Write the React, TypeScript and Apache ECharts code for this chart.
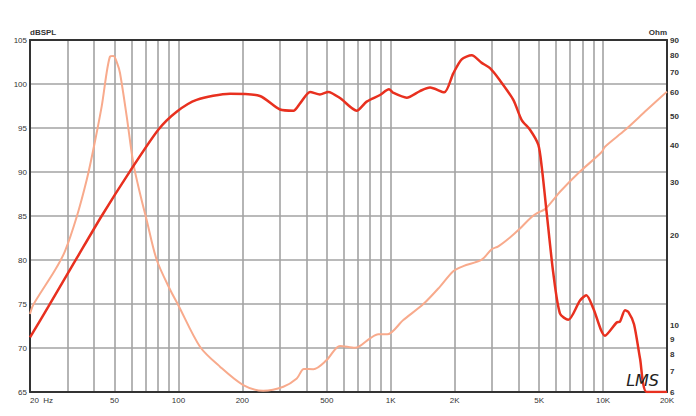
import React, { useEffect, useRef } from "react";
import * as echarts from "echarts";

// SPL response (Hz, dB SPL)
const splFreq = [20, 24.4, 33.2, 43.5, 59.2, 80.4, 98.1, 121.8, 175, 242, 301, 348, 374, 417, 464, 508, 577, 691, 770, 890, 981, 1028, 1189, 1373, 1531, 1788, 1970, 2158, 2406, 2682, 2934, 3270, 3778, 4138, 4527, 4953, 5140, 5428, 5828, 6268, 6858, 7786, 8338, 8996, 10210, 11594, 12018, 12684, 13146, 13986, 14928, 16048, 20000];
const splDb = [71.2, 74.7, 80.2, 85.0, 90.1, 94.8, 96.85, 98.2, 98.9, 98.64, 97.1, 96.97, 97.8, 99.1, 98.8, 99.1, 98.4, 96.97, 98.0, 98.75, 99.4, 99.0, 98.45, 99.2, 99.6, 99.05, 101.2, 102.8, 103.26, 102.4, 101.8, 100.4, 98.2, 95.9, 94.8, 93.1, 90.6, 85.3, 78.5, 73.9, 73.2, 75.4, 76.0, 74.5, 71.4, 72.9, 73.0, 74.3, 74.1, 72.7, 68.8, 65.0, 65.0];

// Impedance (Hz, Ohm)
const impFreq = [20, 20.7, 26.2, 29.2, 33.2, 37.0, 39.7, 43.5, 47.6, 49.4, 51.5, 53.1, 57.1, 61.3, 65.9, 70.9, 79.0, 91.3, 99.9, 126.4, 157, 202, 251, 312, 361, 390, 432, 499, 577, 679, 799, 874, 963, 1146, 1424, 1706, 1970, 2196, 2682, 2989, 3210, 3644, 4062, 4527, 4868, 5330, 5828, 6268, 7786, 9852, 10210, 12684, 16048, 20000];
const impOhm = [10.93, 11.72, 15.3, 17.7, 23.1, 30.7, 38.6, 53.9, 79.2, 79.6, 75.2, 69.7, 49.9, 34.9, 27.7, 22.5, 16.6, 13.2, 11.7, 8.5, 7.29, 6.33, 6.06, 6.25, 6.66, 7.16, 7.15, 7.67, 8.55, 8.43, 9.07, 9.35, 9.35, 10.44, 11.8, 13.5, 15.2, 15.8, 16.6, 18.0, 18.4, 19.7, 21.1, 22.8, 23.7, 24.5, 26.3, 28.0, 32.7, 38.0, 39.6, 45.0, 52.5, 60.5];

// Axes
const freqGrid = [20, 30, 40, 50, 60, 70, 80, 90, 100, 200, 300, 400, 500, 600, 700, 800, 900, 1000, 2000, 3000, 4000, 5000, 6000, 7000, 8000, 9000, 10000, 20000];
const freqLabels = [20, 50, 100, 200, 500, 1000, 2000, 5000, 10000, 20000];
const ohmLabels = [6, 7, 8, 9, 10, 20, 30, 40, 50, 60, 70, 80, 90];

const FONT = "Liberation Sans, Arial, sans-serif";

export default function App() {
  const ref = useRef<HTMLDivElement>(null);
  useEffect(() => {
    if (!ref.current) return;
    const chart = echarts.init(ref.current, undefined, { renderer: "svg" });
    const fmtFreq = (v: number) => {
      const r = Math.round(v);
      if (r === 20) return "20  Hz";
      if (r >= 1000) return r / 1000 + "K";
      return String(r);
    };
    chart.setOption({
      animation: false,
      backgroundColor: "#ffffff",
      grid: { left: 30, right: 29, top: 40, bottom: 24, containLabel: false },
      xAxis: [
        {
          type: "log",
          logBase: 10,
          min: 20,
          max: 20000,
          axisLine: { show: true, onZero: false, lineStyle: { color: "#333", width: 2 } },
          axisTick: { show: false, customValues: freqGrid },
          axisLabel: {
            customValues: freqLabels,
            formatter: fmtFreq,
            fontSize: 8,
            color: "#333",
            fontFamily: FONT,
            margin: 4,
            alignMinLabel: "left",
          },
          splitLine: { show: true, lineStyle: { color: "#a3a3a3", width: 1.6 } },
        },
        {
          type: "log",
          logBase: 10,
          min: 20,
          max: 20000,
          position: "top",
          axisLine: { show: true, lineStyle: { color: "#333", width: 2 } },
          axisTick: { show: false },
          axisLabel: { show: false },
          splitLine: { show: false },
        },
      ],
      yAxis: [
        {
          type: "value",
          min: 65,
          max: 105,
          interval: 5,
          name: "dBSPL",
          nameLocation: "end",
          nameGap: 3,
          nameTextStyle: { fontSize: 8, fontWeight: "bold", color: "#333", fontFamily: FONT, align: "left" },
          axisLine: { show: true, onZero: false, lineStyle: { color: "#333", width: 2 } },
          axisTick: { show: false },
          axisLabel: { fontSize: 8, color: "#333", fontFamily: FONT, margin: 3 },
          splitLine: { show: true, lineStyle: { color: "#a3a3a3", width: 1.6 } },
        },
        {
          type: "log",
          logBase: 10,
          min: 6,
          max: 90,
          position: "right",
          name: "Ohm",
          nameLocation: "end",
          nameGap: 3,
          nameTextStyle: { fontSize: 8, fontWeight: "bold", color: "#333", fontFamily: FONT, align: "right" },
          axisLine: { show: true, lineStyle: { color: "#333", width: 2 } },
          axisTick: { show: false, customValues: ohmLabels },
          axisLabel: {
            customValues: ohmLabels,
            formatter: (v: number) => String(Math.round(v)),
            fontSize: 8,
            fontWeight: "bold",
            color: "#333",
            fontFamily: FONT,
            margin: 3,
          },
          splitLine: { show: false },
        },
      ],
      series: [
        {
          name: "SPL",
          type: "line",
          xAxisIndex: 0,
          yAxisIndex: 0,
          data: splFreq.map((f, i) => [f, splDb[i]]),
          showSymbol: false,
          smooth: 0.25,
          lineStyle: { color: "#e8301f", width: 2.5 },
          z: 4,
        },
        {
          name: "Impedance",
          type: "line",
          xAxisIndex: 0,
          yAxisIndex: 1,
          data: impFreq.map((f, i) => [f, impOhm[i]]),
          showSymbol: false,
          smooth: 0.3,
          lineStyle: { color: "#f8aa8c", width: 2 },
          z: 3,
        },
      ],
      graphic: [
        {
          type: "text",
          right: 37,
          bottom: 28,
          style: {
            text: "LMS",
            fontSize: 16,
            fontStyle: "italic",
            fontFamily: "DejaVu Sans, sans-serif",
            fill: "#222",
          },
          z: 10,
        },
      ],
    });
    return () => chart.dispose();
  }, []);
  return (
    <div
      ref={ref}
      style={{ position: "absolute", left: 0, top: 0, width: 696, height: 416, background: "#fff" }}
    />
  );
}
